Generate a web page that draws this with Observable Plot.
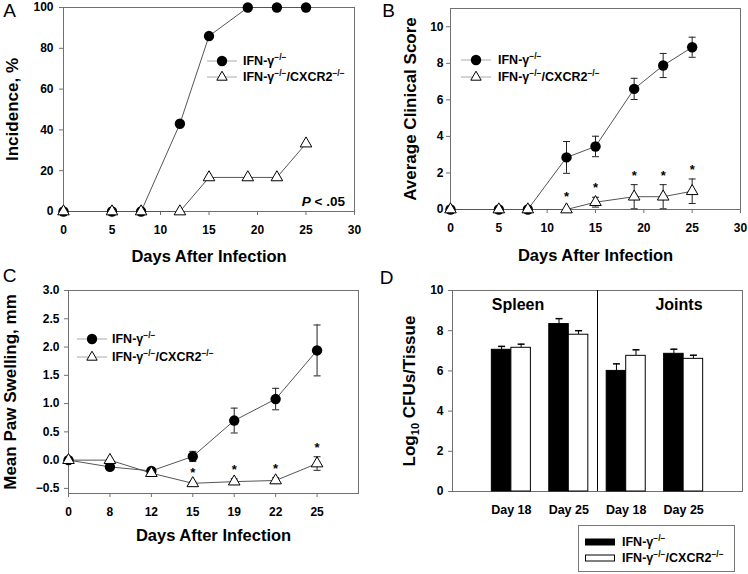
<!DOCTYPE html>
<html><head><meta charset="utf-8">
<script src="https://cdn.jsdelivr.net/npm/d3@7"></script>
<script src="https://cdn.jsdelivr.net/npm/@observablehq/plot@0.6"></script>
<style>
body{margin:0;background:#fff;font-family:"Liberation Sans",Arial,sans-serif;}
#fig{position:relative;width:748px;height:574px;overflow:hidden;background:#fff;}
#fig > svg{position:absolute;}
.lbl{position:absolute;font-weight:bold;color:#000;white-space:nowrap;line-height:1;}
.leg{position:absolute;font-weight:bold;font-size:12.5px;display:flex;align-items:center;height:16px;white-space:nowrap;color:#000;}
.leg svg{display:block;flex:none;}
sup{font-size:8.5px;vertical-align:5px;line-height:0;}
sub{font-size:11px;vertical-align:-4px;line-height:0;}
</style></head><body><div id="fig"></div>
<script>
// ---------- data ----------
const daysAB = [0, 5, 8, 12, 15, 19, 22, 25];
const incidenceIFN = [0, 0, 0, 43, 86, 100, 100, 100];
const incidenceDKO = [0, 0, 0, 0, 16.7, 16.7, 16.7, 33.3];

const scoreIFN = [0, 0, 0, 2.85, 3.45, 6.6, 7.88, 8.88];
const scoreIFNErr = [0, 0, 0, 0.87, 0.56, 0.58, 0.66, 0.55];
const scoreDKO = [0, 0, 0, 0, 0.4, 0.7, 0.7, 1.0];
const scoreDKOErr = [0, 0, 0, 0, 0.27, 0.66, 0.66, 0.67];
const scoreSig = [false, false, false, true, true, true, true, true];

const daysC = ["0", "8", "12", "15", "19", "22", "25"];
const swellIFN = [0, -0.12, -0.19, 0.065, 0.70, 1.08, 1.94];
const swellIFNErr = [0, 0, 0, 0.09, 0.22, 0.19, 0.45];
const swellDKO = [0, 0, -0.23, -0.41, -0.38, -0.36, -0.06];
const swellDKOErr = [0, 0, 0, 0.03, 0.05, 0.05, 0.12];
const swellSig = [false, false, false, true, true, true, true];

const tissues = ["Spleen", "Spleen", "Joints", "Joints"];
const dayLabelsD = ["Day 18", "Day 25", "Day 18", "Day 25"];
const cfuIFN = [7.05, 8.33, 6.0, 6.85];
const cfuIFNErr = [0.17, 0.27, 0.35, 0.23];
const cfuDKO = [7.15, 7.8, 6.75, 6.6];
const cfuDKOErr = [0.18, 0.2, 0.3, 0.18];

const seriesLabels = ["IFN-γ<sup>−/−</sup>", "IFN-γ<sup>−/−</sup>/CXCR2<sup>−/−</sup>"];

// ---------- helpers ----------
const fig = document.getElementById("fig");
const FONT = '"Liberation Sans", Arial, sans-serif';
const baseStyle = {fontFamily: FONT, fontSize: "12px", fontWeight: "bold", background: "none", color: "#000", overflow: "visible"};
const FRAME = "#707070";
const cap = {draw(ctx) { ctx.moveTo(-3.5, 0); ctx.lineTo(3.5, 0); }};

function rows(xs, ys, es, sig) {
  return xs.map((x, i) => ({x, y: ys[i], e: es ? es[i] : 0, sig: sig ? sig[i] : false}));
}
function errMarks(data) {
  const d = data.filter(r => r.e > 0);
  return [
    Plot.ruleX(d, {x: "x", y1: r => r.y - r.e, y2: r => r.y + r.e, stroke: "#222", strokeWidth: 1}),
    Plot.dot(d, {x: "x", y: r => r.y + r.e, symbol: cap, stroke: "#222", fill: "none", strokeWidth: 1}),
    Plot.dot(d, {x: "x", y: r => r.y - r.e, symbol: cap, stroke: "#222", fill: "none", strokeWidth: 1})
  ];
}
function seriesMarks(ifn, dko) {
  return [
    Plot.line(ifn, {x: "x", y: "y", stroke: "#555", strokeWidth: 1}),
    Plot.line(dko, {x: "x", y: "y", stroke: "#555", strokeWidth: 1}),
    ...errMarks(ifn),
    ...errMarks(dko),
    Plot.dot(ifn, {x: "x", y: "y", r: 5.2, fill: "#000", stroke: "none"}),
    Plot.dot(dko, {x: "x", y: "y", r: 4.3, symbol: "triangle", fill: "#fff", stroke: "#000", strokeWidth: 1})
  ];
}
function starMarks(dko) {
  return [
    Plot.text(dko.filter(r => r.sig && r.e > 0), {x: "x", y: r => r.y + r.e, text: () => "*", dy: -9, fontSize: 13}),
    Plot.text(dko.filter(r => r.sig && !(r.e > 0)), {x: "x", y: "y", text: () => "*", dy: -13, fontSize: 13})
  ];
}
const MID = {textAnchor: "middle", lineAnchor: "middle"};
function titleMarks(xTitle, xdy, yTitle, ydx, letter, ldx, ldy) {
  const m = [
    Plot.text([letter], {text: d => d, frameAnchor: "top-left", dx: ldx, dy: ldy, fontSize: 19, fontWeight: "normal", ...MID})
  ];
  if (xTitle) m.push(Plot.text([xTitle], {text: d => d, frameAnchor: "bottom", dy: xdy, fontSize: 16.5, ...MID}));
  if (yTitle) m.push(Plot.text([yTitle], {text: d => d, frameAnchor: "left", rotate: -90, dx: ydx, fontSize: 17, ...MID}));
  return m;
}
function place(svg, left, top) {
  svg.style.left = left + "px";
  svg.style.top = top + "px";
  fig.appendChild(svg);
}
function swatch(kind) {
  if (kind === "circle") return `<svg width="30" height="16"><line x1="0" y1="8" x2="30" y2="8" stroke="#aaa"/><circle cx="15" cy="8" r="5.2" fill="#000"/></svg>`;
  if (kind === "triangle") return `<svg width="30" height="16"><line x1="0" y1="8" x2="30" y2="8" stroke="#aaa"/><polygon points="15,2.2 9.8,11.2 20.2,11.2" fill="#fff" stroke="#000"/></svg>`;
  if (kind === "barBlack") return `<svg width="30" height="16"><rect x="0.5" y="5" width="29" height="6" fill="#000" stroke="#000"/></svg>`;
  return `<svg width="30" height="16"><rect x="0.5" y="5" width="29" height="6" fill="#fff" stroke="#000"/></svg>`;
}
function legendRow(left, cy, kind, html, gap) {
  const div = document.createElement("div");
  div.className = "leg";
  div.style.left = left + "px";
  div.style.top = (cy - 8) + "px";
  div.innerHTML = swatch(kind) + `<span style="margin-left:${gap}px">${html}</span>`;
  fig.appendChild(div);
}
function label(html, css) {
  const div = document.createElement("div");
  div.className = "lbl";
  div.innerHTML = html;
  Object.assign(div.style, css);
  fig.appendChild(div);
}

// ---------- Panel A ----------
const aIFN = rows(daysAB, incidenceIFN);
const aDKO = rows(daysAB, incidenceDKO);
place(Plot.plot({
  width: 374, height: 280,
  marginLeft: 63, marginRight: 20, marginTop: 7, marginBottom: 69,
  style: baseStyle,
  x: {domain: [0, 30], label: null},
  y: {domain: [0, 100], label: null},
  marks: [
    Plot.frame({stroke: FRAME}),
    Plot.axisX({ticks: d3.range(0, 31, 5), tickSize: 4, tickPadding: 10, stroke: FRAME, label: null}),
    Plot.axisY({ticks: d3.range(0, 101, 20), tickSize: 4, tickPadding: 6, stroke: FRAME, label: null}),
    ...titleMarks("Days After Infection", 45, "Incidence, %", -51, "A", -54, 3),
    ...seriesMarks(aIFN, aDKO)
  ]
}), 0, 0);
legendRow(207, 61, "circle", seriesLabels[0], 6);
legendRow(207, 77, "triangle", seriesLabels[1], 6);
label("<i>P</i> &lt; .05", {right: (748 - 345) + "px", top: "195px", fontSize: "13.5px"});

// ---------- Panel B ----------
const bIFN = rows(daysAB, scoreIFN, scoreIFNErr);
const bDKO = rows(daysAB, scoreDKO, scoreDKOErr, scoreSig);
place(Plot.plot({
  width: 374, height: 280,
  marginLeft: 76, marginRight: 8, marginTop: 8, marginBottom: 71,
  style: baseStyle,
  x: {domain: [0, 30], label: null},
  y: {domain: [0, 11], label: null},
  marks: [
    Plot.frame({stroke: FRAME}),
    Plot.axisX({ticks: d3.range(0, 31, 5), tickSize: 4, tickPadding: 10, stroke: FRAME, label: null}),
    Plot.axisY({ticks: d3.range(0, 11, 2), tickSize: 4, tickPadding: 3, stroke: FRAME, label: null}),
    ...titleMarks("Days After Infection", 46, "Average Clinical Score", -40, "B", -62, 2.5),
    ...seriesMarks(bIFN, bDKO),
    ...starMarks(bDKO)
  ]
}), 374, 0);
legendRow(461, 60, "circle", seriesLabels[0], 7);
legendRow(461, 77, "triangle", seriesLabels[1], 7);

// ---------- Panel C ----------
const idxC = daysC.map((d, i) => i);
const cIFN = rows(idxC, swellIFN, swellIFNErr);
const cDKO = rows(idxC, swellDKO, swellDKOErr, swellSig);
place(Plot.plot({
  width: 374, height: 314,
  marginLeft: 68, marginRight: 16, marginTop: 30, marginBottom: 81,
  style: baseStyle,
  x: {domain: [0, daysC.length], label: null},
  y: {domain: [-0.59, 3.0], label: null},
  marks: [
    Plot.frame({stroke: FRAME}),
    Plot.axisX({ticks: idxC, tickFormat: i => daysC[i], tickSize: 4, tickPadding: 10, stroke: FRAME, label: null}),
    Plot.axisY({ticks: d3.range(-0.5, 3.01, 0.5), tickFormat: d3.format(".1f"), tickSize: 4, tickPadding: 5, stroke: FRAME, label: null}),
    ...titleMarks("Days After Infection", 42, "Mean Paw Swelling, mm", -58, "C", -59, -15),
    ...seriesMarks(cIFN, cDKO),
    ...starMarks(cDKO)
  ]
}), 0, 260);
legendRow(77, 339, "circle", seriesLabels[0], 5);
legendRow(77, 357, "triangle", seriesLabels[1], 5);

// ---------- Panel D ----------
const bw = 0.34;
const bars = dayLabelsD.map((lab, i) => ({pos: i + 1, tissue: tissues[i], label: lab,
  ifn: cfuIFN[i], ifnE: cfuIFNErr[i], dko: cfuDKO[i], dkoE: cfuDKOErr[i]}));
const tissueNames = [...new Set(tissues)];
const lastSpleen = d3.max(bars.filter(b => b.tissue === tissueNames[0]), b => b.pos);
const boundary = lastSpleen + 0.5;
const xDomD = [-0.025, bars.length + 1.025];
place(Plot.plot({
  width: 374, height: 314,
  marginLeft: 78, marginRight: 6, marginTop: 30, marginBottom: 83,
  style: baseStyle,
  x: {domain: xDomD, label: null},
  y: {domain: [0, 10], label: null},
  marks: [
    Plot.frame({stroke: FRAME}),
    Plot.axisX({ticks: bars.map(b => b.pos), tickFormat: p => dayLabelsD[p - 1], tickSize: 0, tickPadding: 13.5, fontSize: 12.5, label: null}),
    Plot.axisY({ticks: d3.range(0, 11, 2), tickSize: 4, tickPadding: 5, stroke: FRAME, label: null}),
    ...titleMarks(null, 0, null, 0, "D", -66, -13),
    Plot.ruleX([boundary], {stroke: "#000", strokeWidth: 1}),
    Plot.text([tissueNames[0]], {text: d => d, x: (xDomD[0] + boundary) / 2, frameAnchor: "top", dy: 14, dx: -7, fontSize: 16, ...MID}),
    Plot.text([tissueNames[1]], {text: d => d, x: (boundary + xDomD[1]) / 2, frameAnchor: "top", dy: 14, dx: 9, fontSize: 16, ...MID}),
    Plot.ruleX(bars, {x: d => d.pos - bw / 2, y1: "ifn", y2: d => d.ifn + d.ifnE, stroke: "#000"}),
    Plot.dot(bars, {x: d => d.pos - bw / 2, y: d => d.ifn + d.ifnE, symbol: cap, stroke: "#000", fill: "none"}),
    Plot.ruleX(bars, {x: d => d.pos + bw / 2, y1: "dko", y2: d => d.dko + d.dkoE, stroke: "#000"}),
    Plot.dot(bars, {x: d => d.pos + bw / 2, y: d => d.dko + d.dkoE, symbol: cap, stroke: "#000", fill: "none"}),
    Plot.rect(bars, {x1: d => d.pos - bw, x2: "pos", y1: 0, y2: "ifn", fill: "#000", stroke: "#000"}),
    Plot.rect(bars, {x1: "pos", x2: d => d.pos + bw, y1: 0, y2: "dko", fill: "#fff", stroke: "#000"})
  ]
}), 374, 260);
label("Log<sub>10</sub> CFUs/Tissue", {left: "409px", top: "391px", fontSize: "17px", transform: "translate(-50%,-50%) rotate(-90deg)"});
const box = document.createElement("div");
Object.assign(box.style, {position: "absolute", left: "578px", top: "525px", width: "157px", height: "47px", border: "1px solid #777", boxSizing: "border-box"});
fig.appendChild(box);
legendRow(585, 542, "barBlack", seriesLabels[0], 7);
legendRow(585, 558, "barWhite", seriesLabels[1], 7);
</script></body></html>
